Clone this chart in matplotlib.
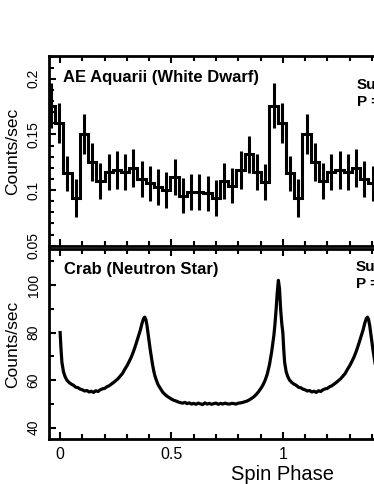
import numpy as np
import matplotlib
matplotlib.use('Agg')
from matplotlib import pyplot as plt
from matplotlib.ticker import MultipleLocator, FormatStrFormatter

plt.rcParams['font.family'] = ['Liberation Sans', 'DejaVu Sans']

# AE Aquarii folded light curve, 27 bins per spin cycle (counts/sec)
ae_rate = [0.176, 0.160, 0.115, 0.093, 0.150, 0.125, 0.108, 0.116, 0.118,
           0.116, 0.120, 0.110, 0.106, 0.103, 0.100, 0.112, 0.095, 0.098,
           0.098, 0.097, 0.093, 0.108, 0.104, 0.118, 0.132, 0.116, 0.107]
ae_err = [0.020, 0.018, 0.016, 0.017, 0.018, 0.017, 0.016, 0.016, 0.017,
          0.016, 0.017, 0.016, 0.016, 0.016, 0.016, 0.016, 0.016, 0.016,
          0.016, 0.016, 0.016, 0.016, 0.016, 0.017, 0.017, 0.016, 0.016]
ae_start = -0.060   # left edge of the first bin

# Crab pulse profile, one cycle
crab_phase = [0.000, 0.004, 0.008, 0.015, 0.022, 0.030, 0.040, 0.050, 0.060, 0.070,
              0.080, 0.090, 0.100, 0.110, 0.120, 0.130, 0.140, 0.150, 0.160, 0.170,
              0.180, 0.190, 0.200, 0.210, 0.220, 0.230, 0.240, 0.250, 0.260, 0.270,
              0.280, 0.290, 0.300, 0.310, 0.320, 0.330, 0.340, 0.350, 0.360, 0.368,
              0.375, 0.380, 0.385, 0.390, 0.395, 0.400, 0.405, 0.410, 0.415, 0.420,
              0.425, 0.430, 0.440, 0.450, 0.460, 0.470, 0.480, 0.490, 0.500, 0.510,
              0.520, 0.530, 0.540, 0.550, 0.560, 0.570, 0.580, 0.590, 0.600, 0.610,
              0.620, 0.630, 0.640, 0.650, 0.660, 0.670, 0.680, 0.690, 0.700, 0.710,
              0.720, 0.730, 0.740, 0.750, 0.760, 0.770, 0.780, 0.790, 0.800, 0.810,
              0.820, 0.830, 0.840, 0.850, 0.860, 0.870, 0.880, 0.890, 0.900, 0.910,
              0.920, 0.930, 0.940, 0.950, 0.960, 0.965, 0.970, 0.975, 0.980, 0.985,
              0.990, 0.995]
crab_rate = [80.0, 73.0, 67.5, 63.5, 61.5, 60.0, 59.0, 58.3, 57.8, 57.0,
             56.8, 56.2, 55.9, 55.4, 55.6, 55.0, 55.3, 54.8, 55.5, 55.2,
             55.9, 56.3, 56.5, 57.2, 57.6, 58.3, 59.0, 59.8, 60.6, 61.7,
             62.8, 64.5, 66.0, 67.8, 69.8, 72.2, 75.0, 78.0, 81.0, 84.0,
             86.0, 86.5, 85.5, 83.0, 79.5, 76.0, 72.5, 69.5, 66.5, 64.0,
             62.0, 60.5, 58.0, 56.5, 55.0, 54.0, 53.2, 52.6, 52.0, 51.5,
             51.2, 50.8, 50.5, 50.3, 50.6, 50.1, 50.4, 49.9, 50.2, 49.8,
             50.3, 50.0, 49.7, 50.4, 49.9, 50.2, 49.8, 50.1, 50.3, 49.8,
             50.2, 49.9, 50.3, 50.0, 49.9, 50.2, 50.1, 49.9, 50.3, 50.4,
             50.6, 50.9, 51.2, 51.7, 52.3, 53.0, 53.9, 55.0, 56.3, 57.8,
             59.8, 62.5, 66.5, 72.0, 79.0, 84.0, 90.0, 97.0, 102.0, 98.5,
             90.0, 84.0]

# two cycles
n = len(ae_rate)
width = 1.0 / n
rate2 = np.array(ae_rate * 2 + ae_rate[:1])
err2 = np.array(ae_err * 2 + ae_err[:1])
edges = ae_start + width * np.arange(len(rate2) + 1)
centers = edges[:-1] + width / 2

cph = np.concatenate([crab_phase, np.array(crab_phase) + 1, [2.0]])
crt = np.concatenate([crab_rate, crab_rate, crab_rate[:1]])

fig = plt.figure(figsize=(3.74, 4.84), dpi=100)
ax1 = fig.add_axes([0.131, 0.4917, 1.2505, 0.3926])
ax2 = fig.add_axes([0.131, 0.0930, 1.2505, 0.3926])

for ax in (ax1, ax2):
    ax.set_xlim(-0.05, 2.05)
    for s in ax.spines.values():
        s.set_linewidth(2)
    ax.xaxis.set_major_locator(MultipleLocator(0.5))
    ax.xaxis.set_minor_locator(MultipleLocator(0.1))
    ax.tick_params(which='both', direction='in', top=True, right=True, width=1.5)
    ax.tick_params(which='major', length=5)
    ax.tick_params(which='minor', length=3.5)

# top panel
ax1.stairs(rate2, edges, color='black', lw=2.2)
ax1.errorbar(centers, rate2, yerr=err2, fmt='none', ecolor='black', elinewidth=2.2, capsize=0)
ax1.set_ylim(0.0497, 0.2205)
ax1.yaxis.set_major_locator(MultipleLocator(0.05))
ax1.yaxis.set_minor_locator(MultipleLocator(0.01))
ax1.yaxis.set_major_formatter(FormatStrFormatter('%g'))
ax1.tick_params(axis='x', labelbottom=False)
ax1.tick_params(axis='y', labelsize=10, labelrotation=90, pad=6)
for lab in ax1.get_yticklabels():
    lab.set_va('center')
ax1.set_ylabel('Counts/sec', fontsize=12.5, labelpad=5)
ax1.text(0.014, 0.2015, 'AE Aquarii (White Dwarf)', fontsize=12, fontweight='bold',
         va='center')
ax1.text(1.332, 0.201, 'Suzaku\nP = 33 s', fontsize=11, fontweight='bold',
         va='top', linespacing=1.3)

# bottom panel
ax2.plot(cph, crt, color='black', lw=2.3)
ax2.set_ylim(35.2, 115.2)
ax2.yaxis.set_major_locator(MultipleLocator(20))
ax2.yaxis.set_minor_locator(MultipleLocator(10))
ax2.xaxis.set_major_formatter(FormatStrFormatter('%g'))
ax2.tick_params(axis='x', labelsize=11.5, pad=6)
ax2.tick_params(axis='y', labelsize=10, labelrotation=90, pad=6)
for lab in ax2.get_yticklabels():
    lab.set_va('center')
ax2.set_ylabel('Counts/sec', fontsize=12.5, labelpad=5)
ax2.set_xlabel('Spin Phase', fontsize=14.5, labelpad=2)
ax2.text(0.016, 106.5, 'Crab (Neutron Star)', fontsize=12, fontweight='bold',
         va='center')
ax2.text(1.328, 110.5, 'Suzaku\nP = 33 ms', fontsize=11, fontweight='bold',
         va='top', linespacing=1.3)

fig.savefig('out.png', dpi=100)
